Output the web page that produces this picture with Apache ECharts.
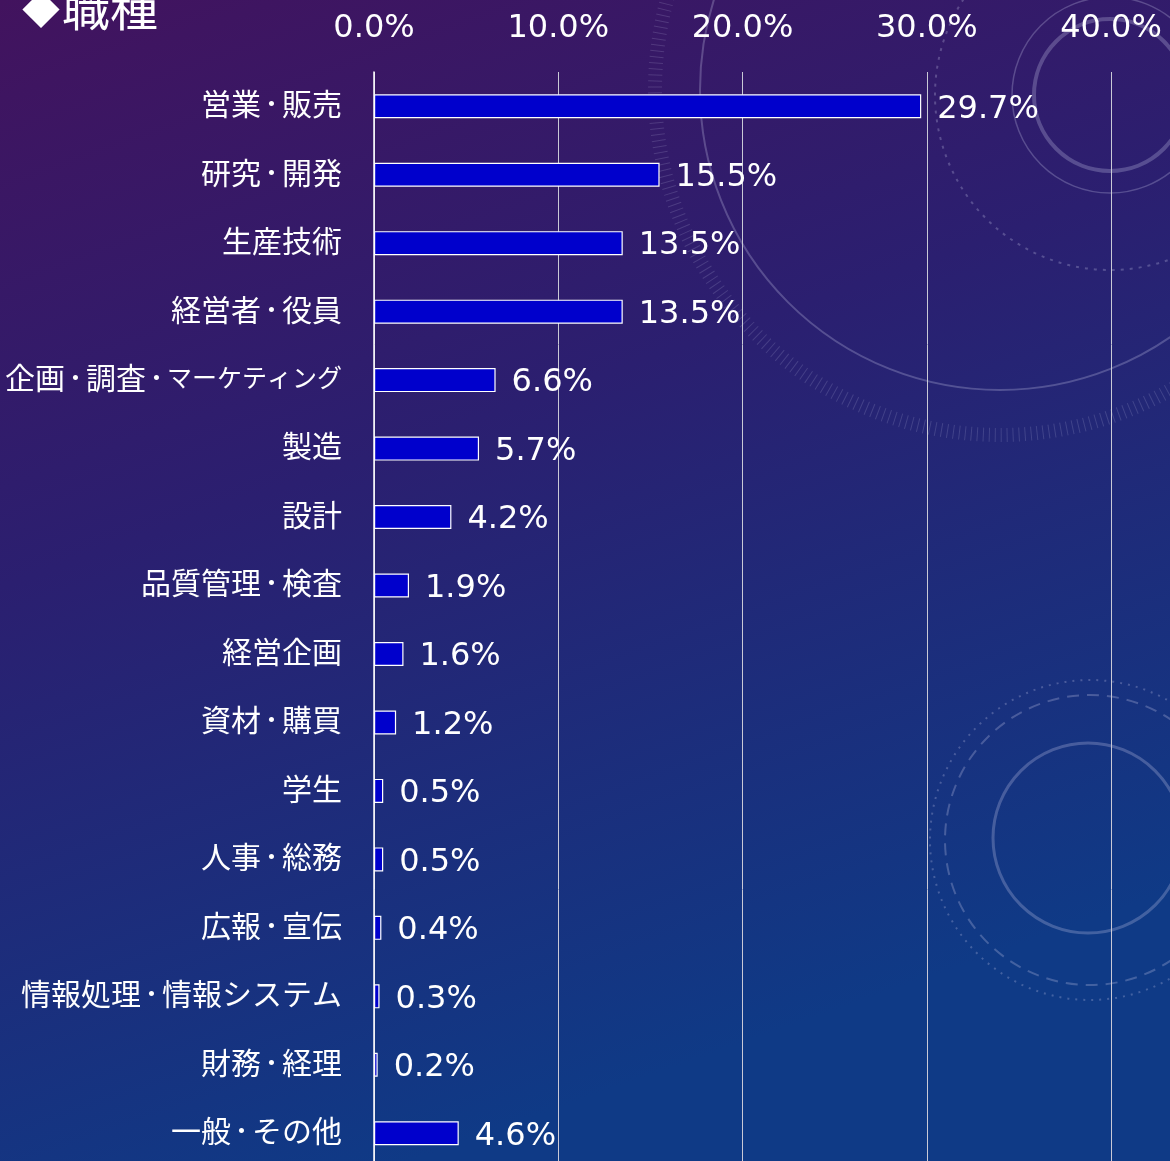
<!DOCTYPE html>
<html><head><meta charset="utf-8">
<script src="https://cdn.jsdelivr.net/npm/echarts@6/dist/echarts.min.js"></script>
<style>html,body{margin:0;padding:0;background:#2a1a6a}#c{width:1170px;height:1161px}</style>
</head><body><div id="c"></div>
<script>
const categories = ['営業・販売','研究・開発','生産技術','経営者・役員','企画・調査・マーケティング','製造','設計','品質管理・検査','経営企画','資材・購買','学生','人事・総務','広報・宣伝','情報処理・情報システム','財務・経理','一般・その他'];
const values = [29.7,15.5,13.5,13.5,6.6,5.7,4.2,1.9,1.6,1.2,0.5,0.5,0.4,0.3,0.2,4.6];
const tickValues = [0,10,20,30,40];
const title = '◆職種';

function catLabel(s){
  let out = s.replace(/・/g,'{d|･}');
  if (s.indexOf('ィ') >= 0) out = out.replace(/([ァ-ヶー]+)/g,'{k|$1}');
  return out;
}

const chart = echarts.init(document.getElementById('c'));
const deco = 'rgba(200,200,235,0.28)';
chart.setOption({
  backgroundColor: new echarts.graphic.LinearGradient(0,0,0.35,1,[
    {offset:0,color:'#42135e'},{offset:0.45,color:'#2b1f70'},{offset:1,color:'#0f3a86'}]),
  animation:false,
  graphic:[
    {type:'circle',z:-1,shape:{cx:1000,cy:90,r:300},style:{fill:'none',stroke:deco,lineWidth:2}},
    {type:'circle',z:-1,shape:{cx:1110,cy:95,r:175},style:{fill:'none',stroke:deco,lineWidth:2,lineDash:[3,6]}},
    {type:'circle',z:-1,shape:{cx:1110,cy:95,r:76},style:{fill:'none',stroke:deco,lineWidth:4}},
    {type:'circle',z:-1,shape:{cx:1110,cy:95,r:98},style:{fill:'none',stroke:deco,lineWidth:1.5}},
    {type:'circle',z:-1,shape:{cx:1000,cy:90,r:345},style:{fill:'none',stroke:'rgba(200,200,235,0.18)',lineWidth:14,lineDash:[1,5]}},
    {type:'circle',z:-1,shape:{cx:1090,cy:840,r:160},style:{fill:'none',stroke:deco,lineWidth:2,lineDash:[2,6]}},
    {type:'circle',z:-1,shape:{cx:1090,cy:840,r:145},style:{fill:'none',stroke:deco,lineWidth:2,lineDash:[12,8]}},
    {type:'circle',z:-1,shape:{cx:1088,cy:838,r:95},style:{fill:'none',stroke:deco,lineWidth:3}},
    {type:'text',z:10,style:{x:22,y:10,text:title.slice(0,1),fill:'#fff',font:'38px "Noto Sans CJK JP"',verticalAlign:'middle'}},
    {type:'text',z:10,style:{x:62,y:8,text:title.slice(1),fill:'#fff',font:'48px "Noto Sans CJK JP"',verticalAlign:'middle'}}
  ],
  grid:{left:374,top:72,right:59,height:1095.5,containLabel:false,outerBoundsMode:'none'},
  xAxis:{type:'value',position:'top',min:0,max:40,interval:10,
    axisLine:{show:false},axisTick:{show:false},
    splitLine:{lineStyle:{color:'#c9c9d6',width:1}},
    axisLabel:{color:'#fff',fontSize:32,fontFamily:'DejaVu Sans',margin:27,
      formatter:v=>tickValues.includes(v)?v.toFixed(1)+'%':''}},
  yAxis:{type:'category',data:categories,inverse:true,
    axisLine:{lineStyle:{color:'#fff',width:1.5}},axisTick:{show:false},
    axisLabel:{color:'#fff',fontSize:30,fontFamily:'Noto Sans CJK JP',margin:32,padding:[0,0,5,0],
      formatter:catLabel,
      rich:{d:{fontSize:30,color:'#fff',fontFamily:'Noto Sans CJK JP',padding:[0,3]},
            k:{fontSize:25,color:'#fff',fontFamily:'Noto Sans CJK JP'}}}},
  series:[{type:'bar',data:values,barWidth:24,
    itemStyle:{color:'#0000cc',borderColor:'#fff',borderWidth:1.2},
    label:{show:true,position:'right',distance:16,offset:[0,3],color:'#fff',fontSize:32,fontFamily:'DejaVu Sans',
      formatter:p=>p.value.toFixed(1)+'%'}}]
});
</script></body></html>
